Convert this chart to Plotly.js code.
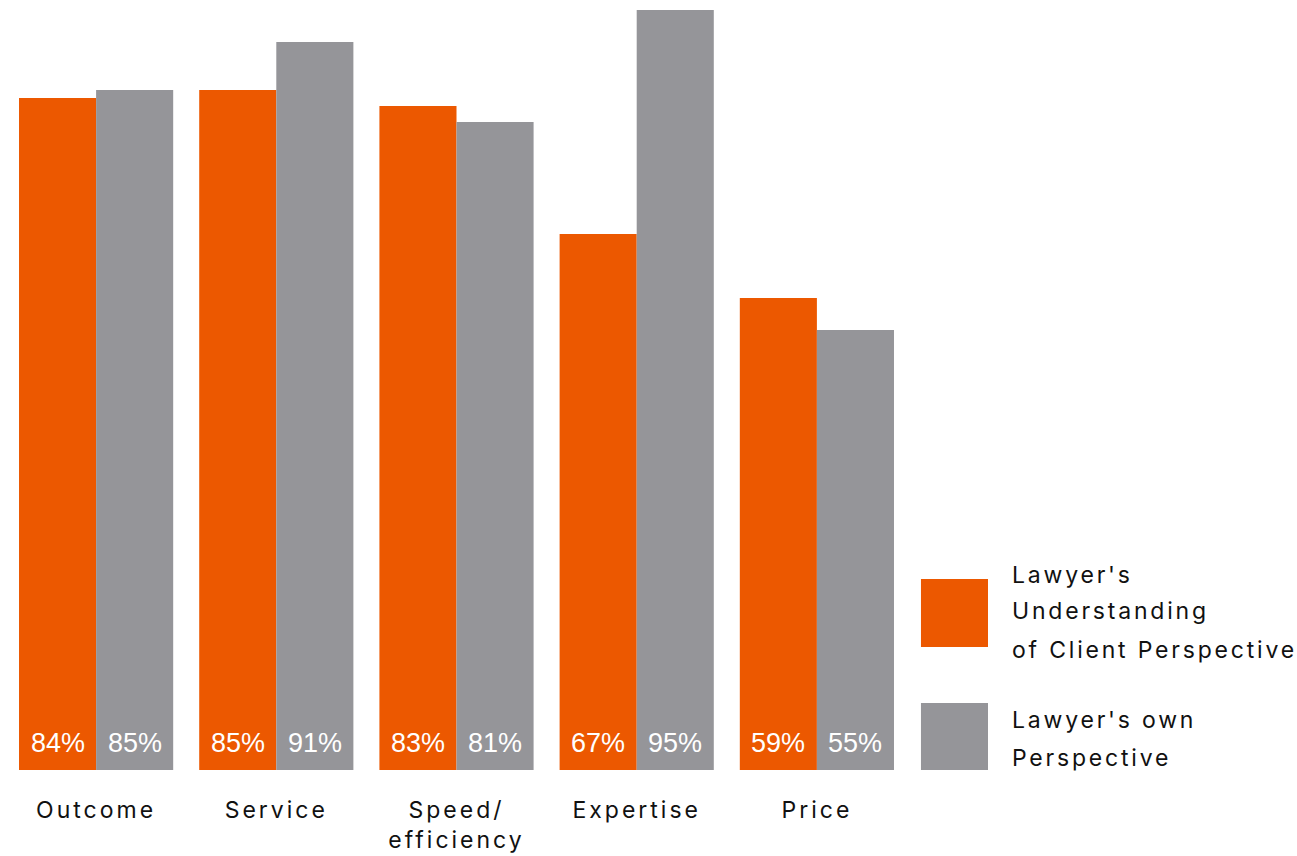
<!DOCTYPE html>
<html>
<head>
<meta charset="utf-8">
<script src="https://cdn.plot.ly/plotly-3.0.1.min.js"></script>
<style>
  html, body { margin: 0; padding: 0; background: #fff; }
  #chart { width: 1297px; height: 856px; }
  .xtick text { letter-spacing: 3px; }
  .annotation-text[style*="Inter"] { letter-spacing: 2.8px; }
</style>
</head>
<body>
<div id="chart"></div>
<script>
const categories = ["Outcome", "Service", "Speed/<br>efficiency", "Expertise", "Price"];
const clientPerspective = [84, 85, 83, 67, 59];
const ownPerspective = [85, 91, 81, 95, 55];
const seriesNames = ["Lawyer's Understanding of Client Perspective", "Lawyer's own Perspective"];
const legendLines1 = ["Lawyer's", "Understanding", "of Client Perspective"];
const legendLines2 = ["Lawyer's own", "Perspective"];

const ORANGE = "#EC5800";
const GRAY = "#959599";
const labelFont = "Inter, 'Noto Sans', sans-serif";
const valueFont = { family: "'Liberation Sans', Arial, sans-serif", size: 27, color: "#ffffff" };

function barTrace(vals, name, color) {
  return {
    type: "bar",
    x: categories,
    y: vals,
    name: name,
    marker: { color: color },
    hoverinfo: "x+y+name"
  };
}

const data = [
  barTrace(clientPerspective, seriesNames[0], ORANGE),
  barTrace(ownPerspective, seriesNames[1], GRAY)
];

const annotations = [];
// value labels at the base of each bar
[clientPerspective, ownPerspective].forEach((vals, s) => {
  vals.forEach((v, i) => annotations.push({
    xref: "x", yref: "y", x: categories[i], y: 0,
    xshift: s === 0 ? -38.5 : 38.5, yshift: 27,
    xanchor: "center", yanchor: "middle",
    text: v + "%", showarrow: false, font: valueFont
  }));
});

const legendFont = { family: labelFont, size: 23, color: "#111111" };
const ys1 = [24.375, 19.875, 15.0];
legendLines1.forEach((t, i) => annotations.push({
  xref: "paper", yref: "y", x: 1.1145, y: ys1[i], xanchor: "left", yanchor: "middle",
  text: t, showarrow: false, font: legendFont
}));
const ys2 = [6.25, 1.5];
legendLines2.forEach((t, i) => annotations.push({
  xref: "paper", yref: "y", x: 1.1145, y: ys2[i], xanchor: "left", yanchor: "middle",
  text: t, showarrow: false, font: legendFont
}));

const shapes = [
  { type: "rect", xref: "paper", yref: "y", x0: 1.0155, x1: 1.0899, y0: 15.375, y1: 23.875,
    fillcolor: ORANGE, line: { width: 0 } },
  { type: "rect", xref: "paper", yref: "y", x0: 1.0155, x1: 1.0899, y0: 0, y1: 8.375,
    fillcolor: GRAY, line: { width: 0 } }
];

const layout = {
  width: 1297,
  height: 856,
  margin: { l: 6, r: 390, t: 10, b: 86, pad: 0 },
  paper_bgcolor: "#ffffff",
  plot_bgcolor: "#ffffff",
  barmode: "group",
  bargap: 0.1444,
  bargroupgap: 0,
  showlegend: false,
  xaxis: {
    type: "category",
    range: [-0.5, 4.5],
    showgrid: false,
    showline: false,
    zeroline: false,
    ticks: "",
    tickfont: { family: labelFont, size: 23, color: "#111111" },
    ticklabelstandoff: 24,
    fixedrange: true
  },
  yaxis: {
    range: [0, 95],
    showgrid: false,
    showline: false,
    zeroline: false,
    showticklabels: false,
    ticks: "",
    fixedrange: true
  },
  annotations: annotations,
  shapes: shapes
};

Plotly.newPlot("chart", data, layout, { displayModeBar: false });
</script>
</body>
</html>
